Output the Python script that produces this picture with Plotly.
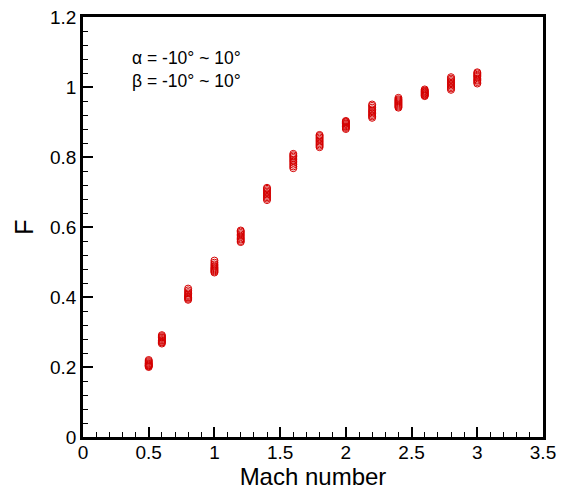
import plotly.graph_objects as go

mach = [0.5, 0.6, 0.8, 1.0, 1.2, 1.4, 1.6, 1.8, 2.0, 2.2, 2.4, 2.6, 2.8, 3.0]

f_05 = [0.200, 0.202, 0.204, 0.205, 0.207, 0.209, 0.211, 0.214, 0.217, 0.220]
f_06 = [0.267, 0.270, 0.272, 0.275, 0.277, 0.280, 0.283, 0.285, 0.288, 0.291]
f_08 = [0.392, 0.395, 0.398, 0.400, 0.403, 0.406, 0.410, 0.414, 0.419, 0.424]
f_10 = [0.470, 0.473, 0.476, 0.479, 0.482, 0.485, 0.489, 0.493, 0.498, 0.504]
f_12 = [0.557, 0.560, 0.564, 0.567, 0.571, 0.575, 0.579, 0.583, 0.587, 0.590]
f_14 = [0.677, 0.681, 0.685, 0.689, 0.693, 0.697, 0.701, 0.705, 0.709, 0.712]
f_16 = [0.768, 0.773, 0.778, 0.783, 0.788, 0.792, 0.797, 0.801, 0.805, 0.809]
f_18 = [0.828, 0.832, 0.836, 0.840, 0.844, 0.848, 0.852, 0.856, 0.860, 0.863]
f_20 = [0.880, 0.883, 0.886, 0.888, 0.891, 0.894, 0.896, 0.899, 0.901, 0.903]
f_22 = [0.912, 0.916, 0.920, 0.924, 0.928, 0.932, 0.936, 0.941, 0.946, 0.950]
f_24 = [0.941, 0.944, 0.947, 0.950, 0.953, 0.956, 0.959, 0.962, 0.965, 0.969]
f_26 = [0.974, 0.976, 0.978, 0.980, 0.982, 0.984, 0.986, 0.988, 0.990, 0.993]
f_28 = [0.992, 0.996, 1.000, 1.004, 1.008, 1.012, 1.016, 1.020, 1.024, 1.028]
f_30 = [1.010, 1.014, 1.018, 1.021, 1.025, 1.029, 1.032, 1.035, 1.039, 1.042]

f_all = [f_05, f_06, f_08, f_10, f_12, f_14, f_16, f_18, f_20, f_22, f_24, f_26, f_28, f_30]

x_ticks = [0, 0.5, 1, 1.5, 2, 2.5, 3, 3.5]
x_labels = ["0", "0.5", "1", "1.5", "2", "2.5", "3", "3.5"]
y_ticks = [0, 0.2, 0.4, 0.6, 0.8, 1.0, 1.2]
y_labels = ["0", "0.2", "0.4", "0.6", "0.8", "1", "1.2"]

xs, ys = [], []
for m, vals in zip(mach, f_all):
    xs += [m] * len(vals)
    ys += vals

FONT = "Arial, Liberation Sans, sans-serif"
RED = "#d40000"

fig = go.Figure()
fig.add_trace(go.Scatter(
    x=xs, y=ys, mode="markers",
    marker=dict(symbol="circle-open", size=7, color=RED, line=dict(width=1, color=RED)),
    showlegend=False, cliponaxis=False,
))

axis_common = dict(
    showgrid=False, zeroline=False, showline=True, linecolor="black", linewidth=2.5,
    mirror=True, ticks="inside", ticklen=10, tickwidth=2, tickcolor="black",
    tickfont=dict(family=FONT, size=19, color="black"), automargin=False,
    ticklabeloverflow="allow",
)

fig.update_xaxes(
    range=[0, 3.5], tickvals=x_ticks, ticktext=x_labels, ticklabelstandoff=-4,
    minor=dict(dtick=0.1, ticks="inside", ticklen=5, tickwidth=1, tickcolor="black"),
    title=dict(text="Mach number", font=dict(family=FONT, size=24, color="black"), standoff=2),
    **axis_common,
)
fig.update_yaxes(
    range=[0, 1.2], tickvals=y_ticks, ticktext=y_labels,
    minor=dict(dtick=0.04, ticks="inside", ticklen=5, tickwidth=1, tickcolor="black"),
    title=dict(text="F", font=dict(family=FONT, size=25, color="black"), standoff=10),
    **axis_common,
)

fig.add_annotation(x=0.36, y=1.05, xref="x", yref="y",
                   text="α = -10° ~ 10°<br>β = -10° ~ 10°",
                   showarrow=False, xanchor="left", yanchor="middle", align="left",
                   font=dict(family=FONT, size=17.5, color="black"))

fig.update_layout(
    width=558, height=483,
    margin=dict(l=75, r=23, t=9, b=54),
    paper_bgcolor="white", plot_bgcolor="white",
)

fig.write_html("out.html")
